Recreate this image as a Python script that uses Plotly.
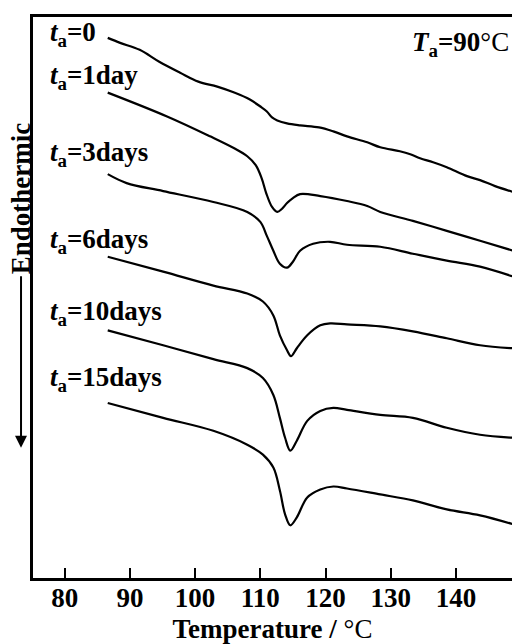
import plotly.graph_objects as go

# DSC heating traces of samples annealed at 90 °C for different times.
# Heat flow in arbitrary units, already offset vertically for display.
temp_0 = [86.6, 88.5, 91.5, 94.5, 97.7, 100.5, 103.4, 106.0, 108.4, 110.0, 111.0, 111.8,
          112.6, 114.1, 116.1, 119.0, 121.2, 123.3, 126.4, 128.4, 131.4, 133.0,
          134.5, 136.5, 138.6, 141.7, 143.7, 146.0, 148.8]
flow_0 = [54.4, 53.9, 53.2, 52.0, 50.9, 50.0, 49.5, 48.9, 48.2, 47.5, 47.0, 46.4,
          46.1, 45.8, 45.6, 45.4, 45.0, 44.5, 43.9, 43.4, 43.0, 42.7,
          42.3, 41.9, 41.4, 40.5, 40.1, 39.5, 38.9]

temp_1 = [86.6, 95.7, 102.3, 106.0, 108.0, 109.3, 110.2, 110.9, 111.8, 112.6, 113.3, 114.1,
          115.0, 116.1, 119.2, 123.3, 126.4, 128.4, 133.4, 138.6, 143.7, 148.8]
flow_1 = [48.9, 46.5, 44.5, 43.3, 42.5, 41.6, 40.3, 38.8, 37.4, 36.9, 37.2, 37.8,
          38.3, 38.7, 38.5, 38.0, 37.5, 36.9, 36.0, 35.0, 34.0, 33.0]

temp_3 = [86.6, 89.5, 95.1, 102.8, 108.0, 110.0, 111.0, 112.0, 113.0, 114.1, 115.0,
          116.1, 118.1, 120.7, 123.3, 128.4, 133.4, 138.6, 143.7, 148.8]
flow_3 = [40.7, 39.8, 39.0, 37.9, 36.9, 35.9, 34.5, 33.0, 31.7, 31.3, 31.9,
          33.0, 33.7, 33.9, 33.6, 33.4, 32.7, 32.0, 31.4, 30.4]

temp_6 = [86.6, 95.1, 102.8, 108.0, 110.4, 112.0, 113.0, 114.1, 114.7, 115.6, 117.2,
          119.2, 120.7, 123.3, 128.4, 133.4, 138.6, 143.7, 148.8]
flow_6 = [32.4, 30.9, 29.5, 28.7, 27.9, 26.5, 24.5, 23.0, 22.4, 23.2, 24.5,
          25.5, 25.7, 25.6, 25.4, 24.9, 24.2, 23.5, 23.2]

temp_10 = [86.6, 95.1, 102.8, 108.0, 110.4, 112.0, 113.0, 113.8, 114.6, 115.6, 117.2,
           119.2, 121.2, 123.3, 128.4, 133.4, 138.6, 143.7, 148.8]
flow_10 = [25.0, 23.5, 22.1, 21.2, 20.2, 18.5, 16.2, 14.2, 12.9, 13.9, 15.9,
           16.9, 17.2, 17.0, 16.5, 16.2, 15.2, 14.5, 14.2]

temp_15 = [86.6, 95.1, 102.8, 108.0, 110.4, 112.0, 113.0, 113.8, 114.6, 115.6, 117.2,
           119.2, 121.2, 123.3, 128.4, 133.4, 138.6, 143.7, 148.8]
flow_15 = [17.7, 16.2, 14.9, 13.5, 12.5, 11.2, 8.9, 6.5, 5.4, 6.2, 8.2,
           9.0, 9.3, 9.1, 8.5, 7.9, 7.0, 6.4, 5.5]

curve_labels = ["=0", "=1day", "=3days", "=6days", "=10days", "=15days"]
label_levels = [54.8, 50.5, 42.7, 34.0, 26.7, 20.1]
x_ticks = [80, 90, 100, 110, 120, 130, 140]

temps = [temp_0, temp_1, temp_3, temp_6, temp_10, temp_15]
flows = [flow_0, flow_1, flow_3, flow_6, flow_10, flow_15]

SERIF = "Liberation Serif"
FS = 27

fig = go.Figure()
for t, f in zip(temps, flows):
    fig.add_trace(go.Scatter(
        x=t, y=f, mode="lines",
        line=dict(color="black", width=2.2, shape="spline", smoothing=1.0),
        hoverinfo="skip",
    ))

annotations = []
for lab, lvl in zip(curve_labels, label_levels):
    annotations.append(dict(
        x=77.5, y=lvl, xref="x", yref="y", xanchor="left", yanchor="middle",
        text=f"<b><i>t</i><sub>a</sub>{lab}</b>", showarrow=False,
        font=dict(family=SERIF, size=FS, color="black"),
    ))

# annealing temperature tag, top right
annotations.append(dict(
    x=148.4, y=53.8, xref="x", yref="y", xanchor="right", yanchor="middle",
    text="<b><i>T</i><sub>a</sub>=90</b>°C", showarrow=False,
    font=dict(family=SERIF, size=FS, color="black"),
))

# vertical "Endothermic" label with a downward arrow
annotations.append(dict(
    x=-0.025, y=0.677, xref="paper", yref="paper", xanchor="center", yanchor="middle",
    text="<b>Endothermic</b>", textangle=-90, showarrow=False,
    font=dict(family=SERIF, size=FS, color="black"),
))
annotations.append(dict(
    x=-0.025, y=0.232, xref="paper", yref="paper", text="",
    showarrow=True, axref="pixel", ayref="pixel", ax=0, ay=-173,
    arrowhead=2, arrowsize=1.2, arrowwidth=2, arrowcolor="black",
))

fig.update_layout(
    width=512, height=644,
    margin=dict(l=33, r=0, t=17, b=63),
    paper_bgcolor="white", plot_bgcolor="white",
    showlegend=False,
    annotations=annotations,
    xaxis=dict(
        range=[75.14, 148.6], tickvals=x_ticks,
        ticks="inside", ticklen=10, tickwidth=2, tickcolor="black",
        showline=True, linewidth=3, linecolor="black", mirror=True,
        showgrid=False, zeroline=False, ticklabelstandoff=-6,
        tickfont=dict(family=SERIF, size=FS, color="black", weight="bold"),
        title=dict(text="<b>Temperature /</b> °C", standoff=12,
                   font=dict(family=SERIF, size=FS, color="black")),
    ),
    yaxis=dict(
        range=[0.1, 56.5], showticklabels=False, ticks="",
        showline=True, linewidth=3, linecolor="black",
        showgrid=False, zeroline=False,
    ),
)

fig.write_html("out.html")
